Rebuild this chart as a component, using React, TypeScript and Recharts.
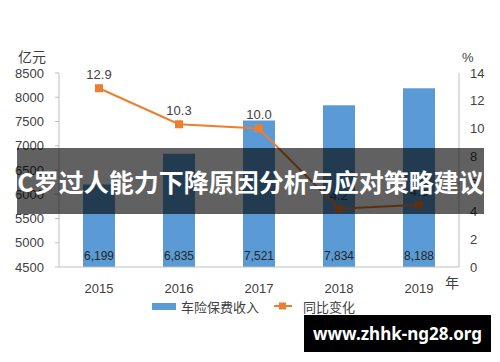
import React from "react";
import {
    ComposedChart,
    Bar,
    Line,
    XAxis,
    YAxis,
    Legend,
    LabelList,
} from "recharts";

const YEARS = ["2015", "2016", "2017", "2018", "2019"];
const PREMIUM = [6199, 6835, 7521, 7834, 8188];
const YOY = [12.9, 10.3, 10.0, 4.2, 4.5];
const LEFT_TICKS = [4500, 5000, 5500, 6000, 6500, 7000, 7500, 8000, 8500];
const RIGHT_TICKS = [0, 2, 4, 6, 8, 10, 12, 14];

const BAR_COLOR = "#5B9BD5";
const LINE_COLOR = "#ED7D31";
const AXIS_COLOR = "#bfbfbf";
const TEXT_COLOR = "#404040";
const NUM_FONT = "'Liberation Sans', 'Noto Sans CJK SC', sans-serif";
const CJK_FONT = "'Noto Sans CJK SC', sans-serif";

const data = YEARS.map((year, i) => ({
    year,
    premium: PREMIUM[i],
    yoy: YOY[i],
}));

const SquareDot = (props: any) => {
    const { cx, cy } = props;
    if (cx == null || cy == null) return null;
    return <rect x={cx - 4} y={cy - 4} width={8} height={8} fill={LINE_COLOR} />;
};

const ChartLegend = () => (
    <div
        style={{
            height: 18,
            display: "flex",
            alignItems: "center",
            fontFamily: CJK_FONT,
            fontSize: 13,
            color: TEXT_COLOR,
            paddingLeft: 152,
        }}
    >
        <span style={{ width: 24, height: 7, background: BAR_COLOR, display: "inline-block" }} />
        <span style={{ marginLeft: 5 }}>车险保费收入</span>
        <svg width={18} height={10} style={{ marginLeft: 15 }}>
            <line x1={0} y1={5} x2={18} y2={5} stroke={LINE_COLOR} strokeWidth={2} />
            <rect x={5} y={1.5} width={7} height={7} fill={LINE_COLOR} />
        </svg>
        <span style={{ marginLeft: 11 }}>同比变化</span>
    </div>
);

const formatThousands = (v: any) => Number(v).toLocaleString("en-US");

export default function App() {
    return (
        <div style={{ position: "absolute", left: 0, top: 0, width: 500, height: 362, background: "#fff" }}>
            <ComposedChart
                width={500}
                height={362}
                data={data}
                margin={{ top: 73, right: 0, bottom: 47, left: 0 }}
            >
                <XAxis
                    dataKey="year"
                    height={30}
                    stroke={AXIS_COLOR}
                    tickLine={false}
                    tickMargin={11}
                    tick={{ fill: TEXT_COLOR, fontSize: 13, fontFamily: NUM_FONT }}
                />
                <YAxis
                    yAxisId="left"
                    width={59}
                    domain={[4500, 8500]}
                    ticks={LEFT_TICKS}
                    interval={0}
                    stroke={AXIS_COLOR}
                    tickSize={4}
                    tickMargin={11}
                    tick={{ fill: TEXT_COLOR, fontSize: 13, fontFamily: NUM_FONT }}
                />
                <YAxis
                    yAxisId="right"
                    orientation="right"
                    width={41}
                    domain={[0, 14]}
                    ticks={RIGHT_TICKS}
                    interval={0}
                    stroke={AXIS_COLOR}
                    tickLine={false}
                    tickSize={0}
                    tickMargin={11}
                    tick={{ fill: TEXT_COLOR, fontSize: 13, fontFamily: NUM_FONT }}
                />
                <Bar
                    yAxisId="left"
                    dataKey="premium"
                    name="车险保费收入"
                    fill={BAR_COLOR}
                    barSize={32}
                    isAnimationActive={false}
                >
                    <LabelList
                        dataKey="premium"
                        position="insideBottom"
                        offset={7}
                        formatter={formatThousands}
                        style={{ fill: "#262626", fontSize: 12, fontFamily: NUM_FONT }}
                    />
                </Bar>
                <Line
                    yAxisId="right"
                    dataKey="yoy"
                    name="同比变化"
                    stroke={LINE_COLOR}
                    strokeWidth={2}
                    dot={<SquareDot />}
                    activeDot={false}
                    isAnimationActive={false}
                >
                    <LabelList
                        dataKey="yoy"
                        position="top"
                        offset={9}
                        formatter={(v: any) => Number(v).toFixed(1)}
                        style={{ fill: TEXT_COLOR, fontSize: 13, fontFamily: NUM_FONT }}
                    />
                </Line>
                <Legend verticalAlign="bottom" align="left" content={<ChartLegend />} />
            </ComposedChart>

            <div style={{ position: "absolute", left: 18, top: 46, fontFamily: CJK_FONT, fontSize: 14, color: TEXT_COLOR }}>
                亿元
            </div>
            <div style={{ position: "absolute", left: 462, top: 50, fontFamily: NUM_FONT, fontSize: 13, color: TEXT_COLOR }}>
                %
            </div>
            <div style={{ position: "absolute", left: 445, top: 272, fontFamily: CJK_FONT, fontSize: 14, color: TEXT_COLOR }}>
                年
            </div>

            <div
                style={{
                    position: "absolute",
                    left: 17,
                    top: 148,
                    width: 467,
                    height: 66,
                    background: "rgba(0,0,0,0.62)",
                    display: "flex",
                    alignItems: "center",
                    justifyContent: "center",
                    color: "#fff",
                    fontFamily: CJK_FONT,
                    fontWeight: 700,
                    fontSize: 25,
                    whiteSpace: "nowrap",
                }}
            >
                C罗过人能力下降原因分析与应对策略建议
            </div>

            <div
                style={{
                    position: "absolute",
                    left: 304,
                    top: 315,
                    width: 187,
                    height: 37,
                    background: "#000",
                    display: "flex",
                    alignItems: "center",
                    justifyContent: "center",
                    color: "#fff",
                    fontFamily: "'Noto Sans', sans-serif",
                    fontWeight: 700,
                    fontSize: 17,
                }}
            >
                www.zhhk-ng28.org
            </div>
        </div>
    );
}
